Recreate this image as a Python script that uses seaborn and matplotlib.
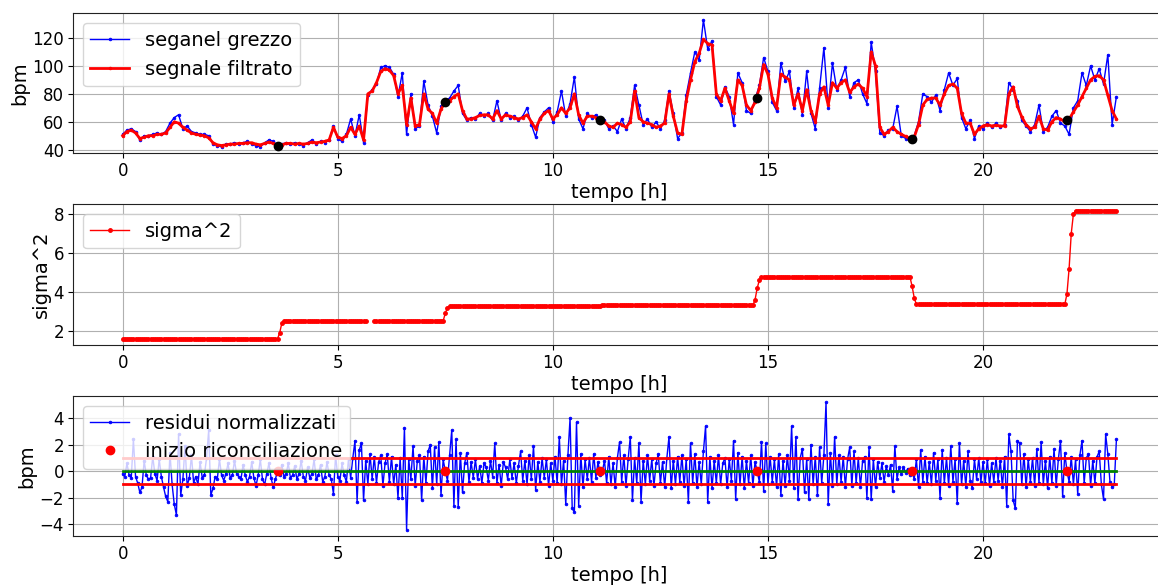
import numpy as np
import matplotlib
matplotlib.use("Agg")
import matplotlib.pyplot as plt
import seaborn as sns

# ---------------- data ----------------
STEP_SIG = 0.1    # h, sampling of raw / filtered signal
STEP_RES = 0.05   # h, sampling of residuals and sigma^2

filtered = [50, 53, 54, 52, 48, 49, 50, 50, 51, 51,
            52, 56, 60, 59, 56, 54, 52, 51, 50.5, 50,
            48.5, 45, 43.5, 43, 43.5, 44, 44, 44.5, 44.5, 45,
            45, 44, 43.5, 44.5, 45.5, 44.5, 43, 43.5, 44.5, 44.5,
            44, 44.5, 44, 44.5, 45.5, 45, 45.5, 46, 47, 56,
            49, 48, 50, 56, 51, 57, 47, 80, 82, 88,
            96, 98, 97, 93, 80, 86, 58, 77, 57, 58,
            80, 69, 66, 59, 69, 74, 75, 78, 80, 68,
            62, 62, 63, 64.5, 65, 65, 62, 68, 62, 65,
            64, 63, 62, 63, 65, 60, 55, 62, 66, 68,
            62, 65, 70, 66, 70, 80, 65, 59, 64, 64,
            63, 61, 60, 57, 56, 59, 58, 56, 60, 82,
            63, 60, 59, 58, 56, 57, 59, 80, 64, 52,
            51, 75, 90, 103, 109, 119, 116, 115, 80, 75,
            84, 75, 66, 90, 86, 72, 68, 74, 84, 101,
            94, 77, 70, 94, 92, 90, 72, 80, 68, 83,
            68, 60, 80, 85, 72, 88, 84, 88, 90, 81,
            85, 87, 84, 78, 110, 100, 56, 51, 53, 56,
            53, 51, 49.5, 48, 49, 58, 72, 76, 77, 77,
            72, 80, 86, 87, 84, 66, 59, 59, 51, 55,
            57, 58, 57, 57.5, 57, 57, 80, 85, 71, 63.5,
            58, 55, 56, 64, 55, 54, 60, 63, 62, 60,
            62, 67, 72, 78, 84, 90, 92.5, 93, 90, 79,
            68, 62]

raw = [51, 54, 55, 53, 47, 50, 50, 51, 52, 51,
       53, 59, 63, 65, 55, 57, 53, 52, 51, 51,
       50, 44, 43, 42, 44, 44, 45, 44, 45, 46,
       44, 43, 42, 45, 47, 46, 43, 44, 45, 44,
       45, 44, 43, 45, 47, 44, 46, 45, 47, 57,
       48, 46, 51, 62, 50, 65, 45, 79, 83, 87,
       99, 100, 99, 94, 78, 95, 51, 80, 55, 57,
       89, 72, 64, 52, 71, 75, 77, 82, 86, 66,
       61, 63, 62, 66, 64, 66, 61, 75, 61, 66,
       63, 64, 61, 64, 70, 58, 49, 63, 67, 70,
       60, 67, 82, 64, 73, 92, 62, 55, 66, 63,
       65, 60, 61, 55, 57, 53, 62, 55, 63, 86,
       72, 58, 62, 56, 60, 55, 61, 82, 66, 48,
       52, 79, 95, 110, 104, 133, 112, 118, 78, 72,
       85, 78, 58, 95, 88, 68, 66, 76, 86, 106,
       96, 74, 68, 102, 89, 96, 70, 84, 65, 96,
       66, 55, 84, 113, 70, 102, 83, 90, 99, 78,
       88, 90, 80, 73, 117, 96, 52, 50, 54, 55,
       71, 50, 48, 47, 50, 60, 80, 78, 74, 79,
       68, 83, 95, 86, 91, 63, 55, 61, 48, 57,
       55, 59, 56, 59, 56, 58, 88, 83, 75, 61,
       57, 53, 58, 72, 53, 56, 64, 68, 59, 57,
       51, 70, 75, 95, 86, 100, 90, 98, 87, 108,
       58, 78]

nan = float("nan")
sigma2 = ([1.60] * 73 + [1.90, 2.40] + [2.52] * 39 + [nan] * 3 + [2.52] * 33
          + [2.90, 3.20] + [3.27] * 71 + [3.32] * 71 + [3.60, 4.20, 4.60]
          + [4.78] * 70 + [4.30, 3.70] + [3.36] * 70
          + [3.90, 5.20, 7.00, 8.00] + [8.18] * 20)

residuals = [
    -0.2, -0.4, 0.6, -0.3, -0.5, 2.4, -0.4, -0.9, -1.6, -1.2, 0.8, -0.3, -0.6, -0.5, 1.1, -0.2, -0.7, 0.9, -0.4, -1.2,
    -1.9, -2.3, 1.4, -1.0, -2.5, -3.3, 2.8, -1.8, -0.6, 1.9, -1.1, -0.5, 1.2, -0.9, -0.4, -1.0, 0.7, -0.5, -0.3, 1.0,
    3.1, -1.8, -1.3, -0.4, -0.6, 0.9, -0.3, -0.7, -0.2, 0.6, -0.5, -0.3, 0.8, -0.2, -0.4, -0.6, 0.5, -0.3, -0.8, -0.4,
    0.7, -0.5, -1.1, -0.3, 0.9, -0.6, -1.0, -0.2, 0.6, -0.5, -1.2, -0.6, 0.0, -0.3, 0.5, -0.4, -0.2, 0.6, -0.5, -0.3,
    0.4, -0.6, -0.2, 0.8, -0.4, -0.7, 0.3, -0.5, -0.2, 0.9, -0.6, -0.3, 0.5, -0.8, -0.4, 0.7, -0.3, -0.6, -1.7, 1.2,
    -0.4, -0.7, 0.6, -0.3, -0.8, 0.9, -0.5, 1.0, 2.3, -2.3, 1.6, 2.1, -2.2, 0.8, -1.0, 1.3, -0.6, 1.1, -0.9, 0.7,
    1.2, -1.1, 0.6, 1.3, -0.8, 1.1, -1.0, 0.5, -2.0, 1.0, -2.0, 3.3, -4.4, 0.9, -0.6, 1.9, -1.1, 0.8, 1.2, -2.2,
    1.1, -0.9, 1.5, 2.0, -1.3, 1.8, -1.0, 2.2, -1.8, 0.9, 0.0, -0.7, 1.2, 3.1, -2.6, 2.4, -2.7, 1.4, -1.6, 0.6,
    1.4, -0.8, 0.7, -0.5, 0.9, -0.6, 0.4, -0.9, 0.6, 0.3, -0.7, 0.8, -0.4, 2.1, -0.9, 0.5, -1.1, 0.7, 0.3, -0.6,
    0.9, -0.5, 0.6, -0.9, 0.4, 1.5, -0.7, 0.8, -1.0, 1.2, -0.6, 1.9, -1.4, 0.7, -0.8, 1.0, -0.5, 0.9, -1.1, 0.6,
    -0.7, 1.1, -0.9, 2.6, -1.0, 0.8, -2.5, 1.2, 4.0, -2.8, -3.1, 3.7, -2.6, 1.3, -1.2, 0.9, -0.6, 1.0, -0.8, 1.3,
    -0.5, 0.7, -0.3, 0.0, 0.8, -0.9, 1.1, -1.0, 0.6, -1.2, 1.0, 2.2, -0.8, 1.2, -1.1, 0.9, 2.6, -2.2, 1.0, -0.9,
    2.1, -2.3, 0.8, -1.0, 1.2, -0.7, 0.9, -1.1, 0.6, 1.3, -0.9, 0.7, -1.2, 1.0, 2.6, -1.3, 0.8, -1.0, 1.1, -0.8,
    1.2, -1.1, 0.9, -2.3, 2.1, -0.9, 1.3, -1.2, 0.7, -1.0, 1.5, 3.4, -2.3, 1.1, -1.3, 0.8, -0.9, 1.2, -1.0, 0.6,
    1.0, -1.2, 0.9, -0.7, 2.3, -2.1, 1.4, -1.0, 1.1, -1.3, 0.8, -0.9, 1.2, -1.1, 0.7, 0.0, -0.8, 2.2, -1.5, 2.1,
    -1.0, 1.1, -0.8, 0.9, -1.2, 1.3, -1.8, 0.8, -1.1, 1.2, -0.7, 3.4, -1.3, 2.6, -2.1, 1.0, 1.7, -1.6, 0.9, -2.1,
    2.0, -1.0, 1.1, -1.8, 1.8, -0.9, 1.2, 5.2, -2.5, 1.4, -1.1, 2.6, -1.0, 1.2, -0.8, 1.1, -1.2, 0.9, 1.8, -1.1,
    1.5, -0.9, 1.0, -1.2, 0.8, 1.1, -2.0, 1.8, -2.1, 0.9, -1.2, 0.7, -0.5, 0.6, -0.8, 0.4, -0.3, 0.5, -1.5, 1.9,
    -0.6, 0.3, -0.2, 0.3, -0.1, 0.2, -0.3, 0.0, -0.6, 0.9, -1.2, 1.6, -0.8, 1.1, -0.9, 0.7, -1.0, 1.4, -0.7, 0.9,
    -2.0, 1.6, -0.9, 1.0, -1.1, 1.9, -0.8, 0.9, -2.4, 2.1, -1.0, 0.8, -1.2, 1.5, -0.7, -1.3, 0.9, -0.6, 1.0, -0.8,
    0.7, -0.9, 0.9, -1.1, 0.6, -0.8, 1.0, -0.7, 0.8, -1.2, 1.1, -2.6, 2.8, 1.5, -2.2, -2.8, 2.3, 2.1, -1.0, 1.3,
    -1.2, 0.9, -0.8, 1.0, -1.1, 1.7, -0.9, 2.2, -1.0, 0.8, -1.3, 1.1, -0.9, 1.7, -1.1, 0.9, 2.3, -1.9, 1.4, 0.0,
    -0.8, 1.1, -1.0, 0.9, -1.7, 1.2, 2.3, -0.9, 1.0, 1.3, -1.1, 0.8, -0.9, 1.1, 1.5, -1.0, -2.1, 2.8, 1.3, -0.8,
    -1.2, -1.0, 2.4]

recon_times = [3.6, 7.5, 11.1, 14.75, 18.35, 21.95]
recon_bpm = [43, 74, 61, 77, 48, 61]
recon_res = [0, 0, 0, 0, 0, 0]
band = [-1, 1]

t_sig = np.arange(len(filtered)) * STEP_SIG
t_res = np.arange(len(residuals)) * STEP_RES
t_s2 = np.arange(len(sigma2)) * STEP_RES

# ---------------- figure ----------------
plt.rcParams.update({
    "font.family": ["DejaVu Sans"],
    "axes.edgecolor": "#222222",
    "xtick.major.size": 3.5,
    "ytick.major.size": 3.5,
    "xtick.major.pad": 3.0,
    "ytick.major.pad": 3.0,
    "axes.labelpad": 2.0,
})

fig = plt.figure(figsize=(11.58, 5.85), dpi=100)
W = 0.944
ax1 = fig.add_axes([0.063, 0.738, W, 0.239])
ax2 = fig.add_axes([0.063, 0.410, W, 0.241])
ax3 = fig.add_axes([0.063, 0.084, W, 0.239])

LEG = 14
LAB = 14
TICK = 12

# top panel
sns.lineplot(x=t_sig, y=raw, ax=ax1, color="b", lw=1, marker=".", markersize=4,
             markeredgecolor="b", markeredgewidth=0.5, label="seganel grezzo", sort=False)
sns.lineplot(x=t_sig, y=filtered, ax=ax1, color="r", lw=2, marker=".", markersize=4,
             markeredgecolor="r", markeredgewidth=0.5, label="segnale filtrato", sort=False)
ax1.plot(recon_times, recon_bpm, "o", color="k", ms=6, label="_nolegend_", zorder=5)
ax1.set_ylabel("bpm", fontsize=LAB)
ax1.set_xlabel("tempo [h]", fontsize=LAB)
ax1.legend(loc="upper left", fontsize=LEG)

# middle panel
ax2.plot(t_s2, sigma2, color="r", lw=1, marker=".", ms=5, label="sigma^2")
ax2.set_ylabel("sigma^2", fontsize=LAB)
ax2.set_xlabel("tempo [h]", fontsize=LAB)
ax2.legend(loc="upper left", fontsize=LEG)

# bottom panel
sns.lineplot(x=t_res, y=residuals, ax=ax3, color="b", lw=1, marker=".", markersize=4,
             markeredgecolor="b", markeredgewidth=0.5, label="residui normalizzati", sort=False)
t_end = [t_res[0], t_res[-1]]
ax3.plot(t_end, [0, 0], color="g", lw=2, label="_nolegend_")
ax3.plot(t_end, [band[0], band[0]], color="r", lw=2, label="_nolegend_")
ax3.plot(t_end, [band[1], band[1]], color="r", lw=2, label="_nolegend_")
ax3.plot(recon_times, recon_res, "o", color="r", ms=6, label="inizio riconciliazione", zorder=5)
ax3.set_ylabel("bpm", fontsize=LAB)
ax3.set_xlabel("tempo [h]", fontsize=LAB)
ax3.legend(loc="upper left", fontsize=LEG)

for ax in (ax1, ax2, ax3):
    ax.set_facecolor("white")
    ax.grid(True, color="#b0b0b0", lw=0.8)
    ax.tick_params(labelsize=TICK, direction="out")
    ax.margins(x=0.05, y=0.05)
    ax.set_xticks([0, 5, 10, 15, 20])
    for s in ax.spines.values():
        s.set_visible(True)

ax1.set_yticks([40, 60, 80, 100, 120])
ax2.set_yticks([2, 4, 6, 8])
ax3.set_yticks([-4, -2, 0, 2, 4])

fig.savefig("out.png", dpi=100, facecolor="white")
